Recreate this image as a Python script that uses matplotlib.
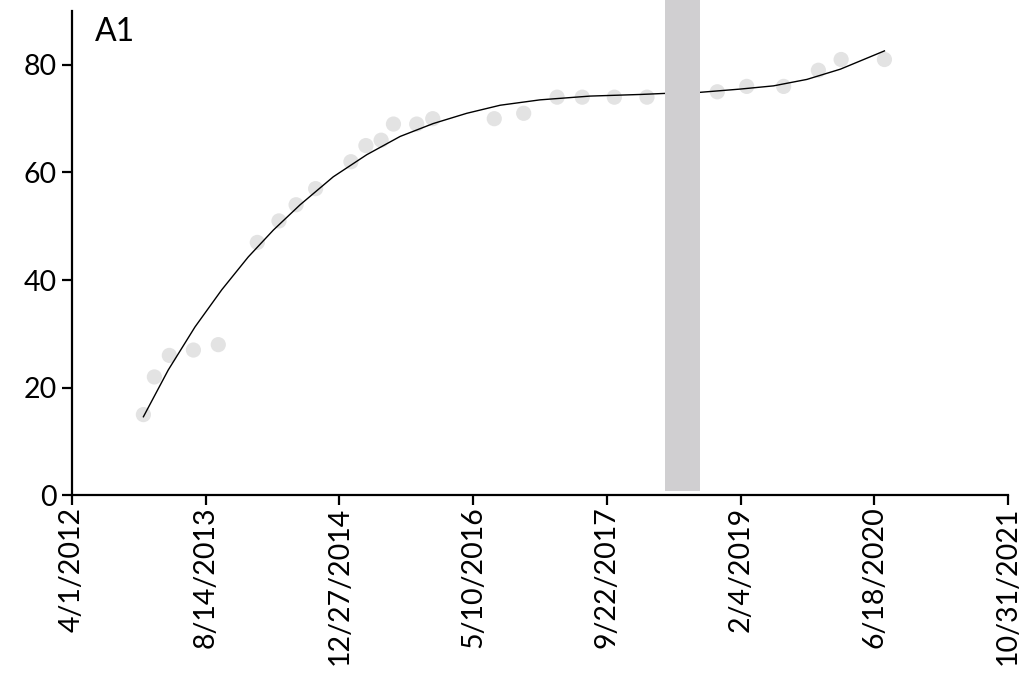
import matplotlib
matplotlib.use("Agg")
import matplotlib.pyplot as plt
import pandas as pd

# ----------------------------
# Datos
# ----------------------------
point_dates = ["2012-12-24", "2013-02-03", "2013-03-31", "2013-06-29", "2013-09-30",
               "2014-02-23", "2014-05-15", "2014-07-18", "2014-09-29", "2015-02-08",
               "2015-04-05", "2015-06-01", "2015-07-17", "2015-10-12", "2015-12-11",
               "2016-07-28", "2016-11-15", "2017-03-20", "2017-06-22", "2017-10-20",
               "2018-02-19", "2018-11-09", "2019-02-27", "2019-07-15", "2019-11-22",
               "2020-02-15", "2020-07-26"]
point_values = [15, 22, 26, 27, 28, 47, 51, 54, 57, 62, 65, 66, 69, 69, 70,
                70, 71, 74, 74, 74, 74, 75, 76, 76, 79, 81, 81]

# linea de tendencia
trend_dates = ["2012-12-24", "2013-03-27", "2013-07-05", "2013-10-13", "2014-01-20",
               "2014-04-24", "2014-08-02", "2014-12-04", "2015-04-08", "2015-08-11",
               "2015-12-13", "2016-04-16", "2016-08-19", "2017-01-15", "2017-07-21",
               "2018-01-24", "2018-04-28", "2018-09-06", "2019-02-02", "2019-06-07",
               "2019-10-10", "2020-02-12", "2020-07-26"]
trend_values = [14.6, 23.3, 31.3, 38.2, 44.3, 49.3, 54.0, 59.2, 63.3, 66.7,
                69.1, 71.0, 72.5, 73.5, 74.2, 74.5, 74.7, 74.9, 75.5, 76.1,
                77.3, 79.2, 82.6]

# franja gris
band_start = "2018-04-28"
band_end = "2018-09-06"

x_start = "2012-04-01"
x_end = "2021-10-31"
tick_step_days = 500
panel_label = "A1"

# ----------------------------
# Grafico
# ----------------------------
plt.rcParams['font.family'] = ['Lato', 'DejaVu Sans']

fig = plt.figure(figsize=(10.24, 6.78), dpi=100)
ax = fig.add_axes([72 / 1024, 1 - 495.3 / 678, (1008 - 72) / 1024, 495.3 / 678])

ax.scatter(pd.to_datetime(point_dates), point_values, s=120, color="#E3E3E3",
           edgecolors="none", zorder=2)
ax.plot(pd.to_datetime(trend_dates), trend_values, color="black", lw=1.0, zorder=3)
ax.axvspan(pd.Timestamp(band_start), pd.Timestamp(band_end), ymin=0.008, ymax=1.0,
           color="#D0CFD1", lw=0, zorder=4)

t0 = pd.Timestamp(x_start)
t1 = pd.Timestamp(x_end)
ticks = pd.date_range(t0, t1, freq=f"{tick_step_days}D")
ax.set_xlim(t0, t1)
ax.set_xticks(ticks)
ax.set_xticklabels([f"{d.month}/{d.day}/{d.year}" for d in ticks], rotation=90)

ax.set_ylim(0, 92.06)
ax.set_yticks([0, 20, 40, 60, 80])

for side in ["top", "right"]:
    ax.spines[side].set_visible(False)
ax.spines["left"].set_bounds(0, 90)
for side in ["left", "bottom"]:
    ax.spines[side].set_linewidth(1.6)
    ax.spines[side].set_zorder(5)

ax.tick_params(axis="both", which="major", direction="out", length=7, width=1.6,
               labelsize=20.5)
ax.tick_params(axis="x", pad=1)
ax.tick_params(axis="y", pad=4)

ax.text(0.025, 0.966, panel_label, transform=ax.transAxes, fontsize=23,
        va="top", ha="left")

fig.savefig("out.png", dpi=100)
